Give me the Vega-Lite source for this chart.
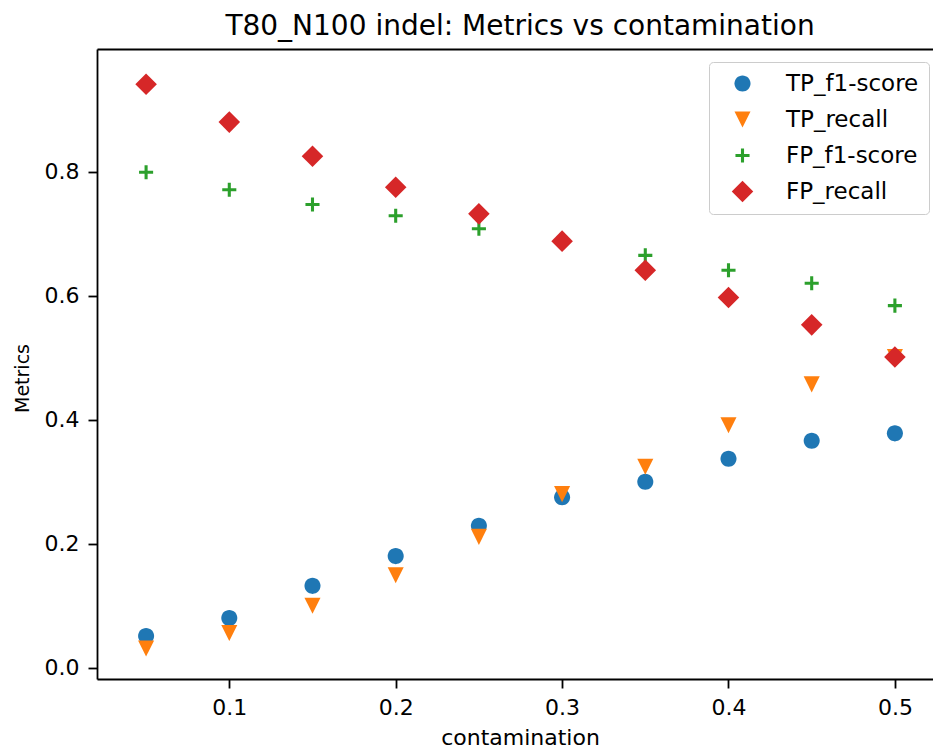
{
  "$schema": "https://vega.github.io/schema/vega-lite/v6.json",
  "width": 836,
  "height": 630,
  "autosize": {"type": "none"},
  "padding": {"left": 97, "top": 49, "right": 0, "bottom": 69},
  "background": "white",
  "title": {
    "text": "T80_N100 indel: Metrics vs contamination",
    "font": "DejaVu Sans",
    "fontSize": 28,
    "fontWeight": "normal",
    "color": "black",
    "anchor": "middle",
    "dx": 5,
    "offset": 8
  },
  "config": {
    "view": {"stroke": null},
    "axis": {
      "domainColor": "black",
      "domainWidth": 1.8,
      "tickColor": "black",
      "tickWidth": 1.8,
      "labelColor": "black",
      "titleColor": "black",
      "labelFont": "DejaVu Sans",
      "titleFont": "DejaVu Sans",
      "titleFontWeight": "normal",
      "grid": false
    }
  },
  "data": {
    "values": [
      {"contamination": 0.05, "series": "TP_f1-score", "value": 0.051},
      {"contamination": 0.10, "series": "TP_f1-score", "value": 0.080},
      {"contamination": 0.15, "series": "TP_f1-score", "value": 0.132},
      {"contamination": 0.20, "series": "TP_f1-score", "value": 0.180},
      {"contamination": 0.25, "series": "TP_f1-score", "value": 0.229},
      {"contamination": 0.30, "series": "TP_f1-score", "value": 0.275},
      {"contamination": 0.35, "series": "TP_f1-score", "value": 0.300},
      {"contamination": 0.40, "series": "TP_f1-score", "value": 0.337},
      {"contamination": 0.45, "series": "TP_f1-score", "value": 0.366},
      {"contamination": 0.50, "series": "TP_f1-score", "value": 0.378},
      {"contamination": 0.05, "series": "TP_recall", "value": 0.031},
      {"contamination": 0.10, "series": "TP_recall", "value": 0.056},
      {"contamination": 0.15, "series": "TP_recall", "value": 0.100},
      {"contamination": 0.20, "series": "TP_recall", "value": 0.149},
      {"contamination": 0.25, "series": "TP_recall", "value": 0.211},
      {"contamination": 0.30, "series": "TP_recall", "value": 0.280},
      {"contamination": 0.35, "series": "TP_recall", "value": 0.324},
      {"contamination": 0.40, "series": "TP_recall", "value": 0.391},
      {"contamination": 0.45, "series": "TP_recall", "value": 0.457},
      {"contamination": 0.50, "series": "TP_recall", "value": 0.501},
      {"contamination": 0.05, "series": "FP_f1-score", "value": 0.799},
      {"contamination": 0.10, "series": "FP_f1-score", "value": 0.771},
      {"contamination": 0.15, "series": "FP_f1-score", "value": 0.747},
      {"contamination": 0.20, "series": "FP_f1-score", "value": 0.729},
      {"contamination": 0.25, "series": "FP_f1-score", "value": 0.708},
      {"contamination": 0.30, "series": "FP_f1-score", "value": 0.687},
      {"contamination": 0.35, "series": "FP_f1-score", "value": 0.665},
      {"contamination": 0.40, "series": "FP_f1-score", "value": 0.641},
      {"contamination": 0.45, "series": "FP_f1-score", "value": 0.620},
      {"contamination": 0.50, "series": "FP_f1-score", "value": 0.584},
      {"contamination": 0.05, "series": "FP_recall", "value": 0.941},
      {"contamination": 0.10, "series": "FP_recall", "value": 0.880},
      {"contamination": 0.15, "series": "FP_recall", "value": 0.825},
      {"contamination": 0.20, "series": "FP_recall", "value": 0.775},
      {"contamination": 0.25, "series": "FP_recall", "value": 0.732},
      {"contamination": 0.30, "series": "FP_recall", "value": 0.688},
      {"contamination": 0.35, "series": "FP_recall", "value": 0.641},
      {"contamination": 0.40, "series": "FP_recall", "value": 0.597},
      {"contamination": 0.45, "series": "FP_recall", "value": 0.553},
      {"contamination": 0.50, "series": "FP_recall", "value": 0.501}
    ]
  },
  "resolve": {"axis": {"x": "independent"}},
  "layer": [
    {
      "mark": {"type": "point", "opacity": 0, "size": 1},
      "encoding": {
        "x": {
          "field": "contamination",
          "type": "quantitative",
          "scale": {"domain": [0.0205, 0.5229], "nice": false, "zero": false},
          "axis": {"orient": "top", "title": null, "labels": false, "ticks": false, "domain": true}
        },
        "y": {
          "field": "value",
          "type": "quantitative",
          "scale": {"domain": [-0.0182, 0.9979], "nice": false, "zero": false}
        }
      }
    },
    {
      "mark": {"type": "point", "filled": true, "opacity": 1, "size": 484, "strokeWidth": 0},
      "encoding": {
        "x": {
          "field": "contamination",
          "type": "quantitative",
          "scale": {"domain": [0.0205, 0.5229], "nice": false, "zero": false},
          "axis": {
            "orient": "bottom",
            "title": "contamination",
            "values": [0.1, 0.2, 0.3, 0.4, 0.5],
            "format": ".1f",
            "labelFontSize": 22,
            "titleFontSize": 22,
            "tickSize": 9,
            "labelPadding": 26,
            "labelBaseline": "alphabetic",
            "titleX": 423,
            "titleY": 65,
            "titleBaseline": "alphabetic",
            "labelFlush": false
          }
        },
        "y": {
          "field": "value",
          "type": "quantitative",
          "scale": {"domain": [-0.0182, 0.9979], "nice": false, "zero": false},
          "axis": {
            "title": "Metrics",
            "values": [0, 0.2, 0.4, 0.6, 0.8],
            "format": ".1f",
            "labelFontSize": 22,
            "titleFontSize": 19,
            "tickSize": 9,
            "labelPadding": 9,
            "titleX": -75,
            "titleY": 329,
            "titleBaseline": "middle",
            "titleAlign": "center",
            "labelFlush": false
          }
        },
        "color": {
          "field": "series",
          "type": "nominal",
          "scale": {
            "domain": ["TP_f1-score", "TP_recall", "FP_f1-score", "FP_recall"],
            "range": ["#1f77b4", "#ff7f0e", "#2ca02c", "#d62728"]
          },
          "legend": {
            "title": null,
            "orient": "none",
            "legendX": 612,
            "legendY": 13,
            "padding": 10,
            "strokeColor": "#cccccc",
            "fillColor": "white",
            "cornerRadius": 4,
            "labelFont": "DejaVu Sans",
            "labelFontSize": 23,
            "labelColor": "black",
            "symbolSize": 484,
            "symbolOffset": 12,
            "labelOffset": 32,
            "rowPadding": 12,
            "symbolStrokeWidth": 0
          }
        },
        "shape": {
          "field": "series",
          "type": "nominal",
          "scale": {
            "domain": ["TP_f1-score", "TP_recall", "FP_f1-score", "FP_recall"],
            "range": [
              "M0.73,0A0.73,0.73,0,1,1,-0.73,0A0.73,0.73,0,1,1,0.73,0Z",
              "M-0.73,-0.73L0.73,-0.73L0,0.73Z",
              "M-0.64,-0.14L-0.14,-0.14L-0.14,-0.64L0.14,-0.64L0.14,-0.14L0.64,-0.14L0.64,0.14L0.14,0.14L0.14,0.64L-0.14,0.64L-0.14,0.14L-0.64,0.14Z",
              "M-0.98,0L0,-0.98L0.98,0L0,0.98Z"
            ]
          }
        }
      }
    }
  ]
}
